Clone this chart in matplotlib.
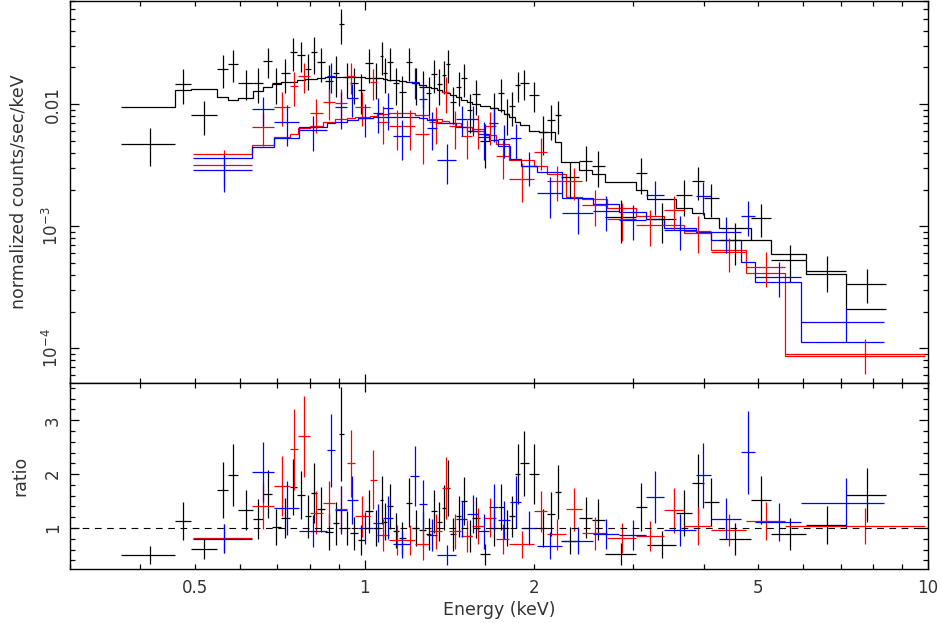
import matplotlib
matplotlib.use('Agg')
import matplotlib.pyplot as plt
from matplotlib.ticker import FixedLocator, FuncFormatter, MultipleLocator, NullFormatter
import numpy as np

plt.rcParams['font.family'] = ['DejaVu Sans']
plt.rcParams['mathtext.default'] = 'regular'

# ---- data ----
# bin edges (keV), data/model ratio, ratio error, model (counts/s/keV) per bin

black_edges = [0.370, 0.461, 0.492, 0.547, 0.572, 0.596, 0.634, 0.660, 0.685, 0.710,
               0.737, 0.758, 0.783, 0.802, 0.822, 0.850, 0.878, 0.901, 0.918, 0.941,
               0.972, 1.002, 1.035, 1.063, 1.080, 1.098, 1.121, 1.151, 1.182, 1.214,
               1.251, 1.285, 1.314, 1.344, 1.371, 1.394, 1.420, 1.452, 1.484, 1.518,
               1.553, 1.602, 1.668, 1.727, 1.766, 1.806, 1.851, 1.888, 1.955, 2.036,
               2.104, 2.174, 2.232, 2.401, 2.532, 2.670, 3.030, 3.169, 3.566, 3.806,
               3.998, 4.249, 4.842, 5.274, 6.082, 7.159, 8.428]
black_ratio = [0.50, 1.13, 0.61, 1.70, 1.98, 1.33, 1.17, 1.63, 1.02, 1.19,
               1.76, 1.61, 1.22, 1.65, 1.35, 0.93, 1.09, 2.74, 1.00, 0.90,
               0.78, 1.31, 1.00, 1.52, 1.12, 1.40, 0.95, 0.81, 1.47, 1.00,
               0.97, 0.89, 1.31, 1.12, 1.38, 1.74, 0.88, 1.22, 1.50, 0.85,
               1.19, 0.51, 1.00, 1.39, 1.00, 1.22, 2.00, 2.20, 2.00, 1.00,
               1.26, 1.67, 0.76, 1.19, 1.15, 0.52, 1.39, 0.69, 1.28, 1.83,
               1.48, 0.80, 1.52, 0.89, 1.05, 1.61]
black_err = [0.17, 0.36, 0.19, 0.52, 0.57, 0.37, 0.37, 0.45, 0.33, 0.37,
             0.52, 0.45, 0.40, 0.55, 0.42, 0.33, 0.40, 0.87, 0.32, 0.30,
             0.28, 0.40, 0.33, 0.45, 0.35, 0.42, 0.32, 0.30, 0.45, 0.33,
             0.33, 0.30, 0.40, 0.36, 0.42, 0.52, 0.30, 0.38, 0.45, 0.30,
             0.38, 0.20, 0.33, 0.42, 0.33, 0.38, 0.55, 0.60, 0.55, 0.35,
             0.40, 0.50, 0.25, 0.38, 0.38, 0.20, 0.45, 0.25, 0.42, 0.55,
             0.45, 0.30, 0.45, 0.30, 0.35, 0.50]
black_model = [0.00945, 0.0130, 0.0133, 0.0114, 0.0108, 0.0112, 0.0128, 0.0138, 0.0146, 0.0151,
               0.0152, 0.0157, 0.0160, 0.0162, 0.0163, 0.0166, 0.0166, 0.0166, 0.0166, 0.0166,
               0.0166, 0.0165, 0.0164, 0.0163, 0.0161, 0.0159, 0.0157, 0.0154, 0.0151, 0.0148,
               0.0143, 0.0139, 0.0135, 0.0130, 0.0126, 0.0123, 0.0118, 0.0114, 0.0109, 0.0105,
               0.0101, 0.0097, 0.0093, 0.0089, 0.0083, 0.0079, 0.0072, 0.0068, 0.0060, 0.0059,
               0.0059, 0.0049, 0.00335, 0.0029, 0.0027, 0.0023, 0.00197, 0.00166, 0.00141, 0.00128,
               0.00116, 0.00096, 0.00077, 0.00059, 0.00041, 0.00021]

red_edges = [0.496, 0.631, 0.690, 0.737, 0.761, 0.799, 0.843, 0.885, 0.929, 0.960,
             1.021, 1.050, 1.107, 1.172, 1.231, 1.303, 1.374, 1.414, 1.484, 1.553,
             1.631, 1.713, 1.806, 2.000, 2.108, 2.278, 2.432, 2.692, 3.030, 3.396,
             3.685, 4.113, 4.745, 5.583, 9.88]
red_ratio = [0.81, 1.41, 1.78, 2.46, 2.70, 1.28, 1.46, 1.36, 2.20, 1.22,
             1.90, 0.87, 0.78, 0.78, 0.70, 0.94, 1.74, 0.94, 0.85, 1.04,
             1.19, 0.80, 0.70, 1.31, 0.88, 1.35, 0.90, 0.82, 0.85, 1.33,
             1.04, 0.96, 1.13, 1.04]
red_err = [0.27, 0.42, 0.55, 0.75, 0.75, 0.40, 0.42, 0.42, 0.62, 0.38,
           0.55, 0.30, 0.28, 0.28, 0.30, 0.32, 0.58, 0.32, 0.30, 0.33,
           0.36, 0.28, 0.25, 0.38, 0.28, 0.40, 0.30, 0.28, 0.28, 0.42,
           0.35, 0.30, 0.36, 0.33]
red_model = [0.00389, 0.00461, 0.00536, 0.00568, 0.00636, 0.00660, 0.00712, 0.00754, 0.00768, 0.00782,
             0.00797, 0.00828, 0.00844, 0.00844, 0.00812, 0.00754, 0.00726, 0.00699, 0.00648, 0.00600,
             0.00557, 0.00470, 0.00348, 0.00310, 0.00267, 0.00173, 0.00166, 0.00141, 0.00121, 0.00102,
             0.000876, 0.000636, 0.000412, 0.000087]

blue_edges = [0.496, 0.631, 0.690, 0.764, 0.856, 0.885, 0.929, 0.972, 1.033, 1.076,
              1.121, 1.206, 1.251, 1.293, 1.346, 1.455, 1.522, 1.592, 1.664, 1.727,
              1.813, 1.896, 2.024, 2.240, 2.543, 2.827, 3.156, 3.396, 3.869, 4.113,
              4.649, 4.940, 5.959, 8.358]
blue_ratio = [0.80, 2.04, 1.37, 0.94, 2.44, 1.33, 1.52, 1.00, 1.09, 1.19,
              0.70, 1.96, 1.44, 0.87, 0.50, 1.17, 1.26, 0.94, 1.39, 1.15,
              1.48, 1.00, 0.67, 0.76, 0.89, 0.87, 1.57, 0.96, 1.98, 1.17,
              2.41, 1.11, 1.46]
blue_err = [0.27, 0.55, 0.50, 0.30, 0.68, 0.45, 0.45, 0.30, 0.35, 0.40,
            0.25, 0.56, 0.45, 0.30, 0.18, 0.33, 0.35, 0.32, 0.42, 0.35,
            0.48, 0.31, 0.25, 0.25, 0.28, 0.28, 0.48, 0.30, 0.60, 0.38,
            0.77, 0.35, 0.46]
blue_model = [0.00361, 0.00444, 0.00526, 0.00648, 0.00699, 0.00712, 0.00739, 0.00768, 0.00782, 0.00782,
              0.00782, 0.00782, 0.00768, 0.00739, 0.00699, 0.00648, 0.00600, 0.00568, 0.00507, 0.00452,
              0.00354, 0.00310, 0.00277, 0.00170, 0.00151, 0.00130, 0.00114, 0.000964, 0.000893, 0.000768,
              0.000507, 0.000347, 0.000112]

datasets = [
    (black_edges, black_ratio, black_err, black_model, 'black'),
    (red_edges, red_ratio, red_err, red_model, '#ff0000'),
    (blue_edges, blue_ratio, blue_err, blue_model, '#0000ff'),
]

text_col = '#333333'

fig = plt.figure(figsize=(9.41, 6.23), dpi=100)
ax1 = fig.add_axes([0.0744, 0.3852, 0.9118, 0.6132])
ax2 = fig.add_axes([0.0744, 0.0867, 0.9118, 0.2985])

for edges, ratio, err, model, col in datasets:
    e = np.array(edges)
    lo, hi = e[:-1], e[1:]
    cen = (lo + hi) / 2
    xerr = [cen - lo, hi - cen]
    ratio = np.array(ratio)
    err = np.array(err)
    model = np.array(model)
    # data = ratio * model (that's what the ratio panel is)
    flux = ratio * model
    ferr = err * model
    ax1.errorbar(cen, flux, xerr=xerr, yerr=ferr, fmt='none', ecolor=col,
                 elinewidth=0.9, capsize=0)
    ax1.stairs(model, e, baseline=None, color=col, lw=0.9)
    ax2.errorbar(cen, ratio, xerr=xerr, yerr=err, fmt='none', ecolor=col,
                 elinewidth=0.9, capsize=0)

ax2.axhline(1.0, color='black', lw=0.8, ls=(0, (6, 5)))

# ---- axes ----
for ax in (ax1, ax2):
    ax.set_xscale('log')
    ax.set_xlim(0.3, 10)
ax1.set_yscale('log')
ax1.set_ylim(5.2e-5, 0.07)
ax2.set_ylim(0.24, 3.69)

xmaj = [1, 10]
xmin = [0.3, 0.4, 0.5, 0.6, 0.7, 0.8, 0.9, 2, 3, 4, 5, 6, 7, 8, 9]

def xmaj_fmt(v, pos):
    return '%g' % v

def xmin_fmt(v, pos):
    if abs(v - 0.5) < 1e-6 or abs(v - 2) < 1e-6 or abs(v - 5) < 1e-6:
        return '%g' % v
    return ''

for ax in (ax1, ax2):
    ax.xaxis.set_major_locator(FixedLocator(xmaj))
    ax.xaxis.set_minor_locator(FixedLocator(xmin))
    ax.tick_params(which='both', direction='in', top=True, right=True,
                   width=0.9, colors='black', labelcolor=text_col, labelsize=12)
    ax.tick_params(which='major', length=6.5)
    ax.tick_params(which='minor', length=3.6)
    ax.tick_params(axis='y', which='both', labelrotation=90, pad=6)
    ax.tick_params(axis='x', which='both', pad=7)
    for s in ax.spines.values():
        s.set_linewidth(1.0)

ax1.tick_params(axis='x', which='both', labelbottom=False)
ax2.xaxis.set_major_formatter(FuncFormatter(xmaj_fmt))
ax2.xaxis.set_minor_formatter(FuncFormatter(xmin_fmt))

ymaj = [1e-4, 1e-3, 1e-2]
ymin = [k * 10.0 ** p for p in (-5, -4, -3, -2) for k in range(2, 10)]
ax1.yaxis.set_major_locator(FixedLocator(ymaj))
ax1.yaxis.set_minor_locator(FixedLocator(ymin))
ax1.yaxis.set_minor_formatter(NullFormatter())

def ylog_fmt(v, pos):
    if abs(v - 0.01) < 1e-9:
        return '0.01'
    return '$10^{%d}$' % round(np.log10(v))

ax1.yaxis.set_major_formatter(FuncFormatter(ylog_fmt))

ax2.yaxis.set_major_locator(MultipleLocator(1))
ax2.yaxis.set_minor_locator(MultipleLocator(0.2))

for lab in ax1.get_yticklabels() + ax2.get_yticklabels():
    lab.set_verticalalignment('center')

ax1.set_ylabel('normalized counts/sec/keV', fontsize=12.5, color=text_col, labelpad=10)
ax2.set_ylabel('ratio', fontsize=12.5, color=text_col, labelpad=10)
ax2.set_xlabel('Energy (keV)', fontsize=12.5, color=text_col, labelpad=3)
fig.align_ylabels([ax1, ax2])

fig.savefig('out.png', dpi=100)
